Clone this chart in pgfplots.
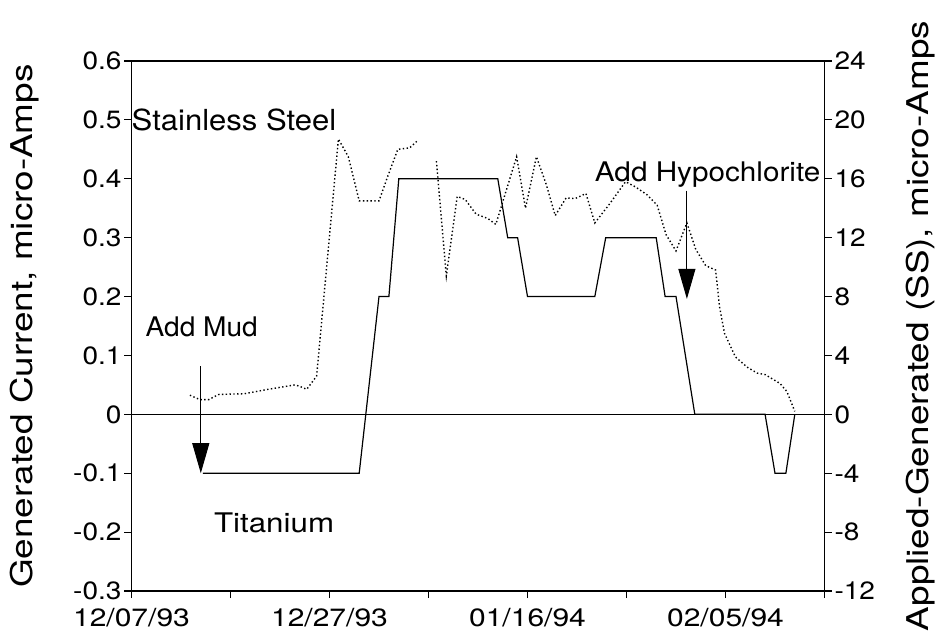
\documentclass[border=0pt]{standalone}
\usepackage{pgfplots}
\pgfplotsset{compat=1.18}
\usepackage{fontspec}
\setmainfont{TeX Gyre Heros}
\usetikzlibrary{arrows.meta}

\pgfplotstableread{
day val
7.2 -0.1
23 -0.1
25 0.2
26 0.2
27 0.4
37 0.4
38 0.3
39 0.3
40 0.2
46.8 0.2
47.9 0.3
53 0.3
53.9 0.2
55 0.2
56.9 0
64 0
65 -0.1
66.1 -0.1
67 0
}\titanium

\pgfplotstableread{
day val
5.9 1.3
6.9 1.0
7.8 1.0
8.8 1.35
11.4 1.4
13.8 1.7
16.5 2.0
17.0 1.9
17.7 1.7
18.7 2.6
20.9 18.7
21.9 17.5
23.0 14.5
25.0 14.5
25.9 16.2
26.9 18.0
28.1 18.1
28.9 18.6
}\ssA

\pgfplotstableread{
day val
30.8 17.2
31.8 9.4
32.9 14.8
33.7 14.6
34.8 13.6
36.0 13.3
36.8 12.9
38.9 17.5
39.8 14.0
40.9 17.5
41.9 15.6
42.8 13.5
43.9 14.7
44.8 14.65
45.9 15.0
46.8 13.0
48.3 14.3
49.9 15.8
50.9 15.45
52.1 14.9
53.1 14.2
54.0 12.2
55.0 11.1
56.1 13.0
57.0 11.2
58.0 10.1
59.0 9.8
59.4 7.3
59.9 5.5
61.0 3.9
62.2 3.2
63.2 2.8
64.0 2.7
65.5 2.1
66.2 1.55
67.0 0.2
}\ssB

\begin{document}
\begin{tikzpicture}
\useasboundingbox (-131.5pt,-50pt) rectangle (809.5pt,591pt);
\pgfplotsset{
  every axis/.append style={
    width=693pt, height=530pt, scale only axis,
    at={(0pt,0pt)}, anchor=south west,
    xmin=0, xmax=70,
    axis line style={line width=1.2pt},
    tick style={line width=1.1pt, black},
    tick align=outside,
    major tick length=7pt,
    minor tick num=0,
    tick label style={font=\fontsize{25}{25}\selectfont, inner sep=2.5pt},
    yticklabel style={xscale=1.12},
    xticklabel style={yshift=-8pt, xscale=1.2},
  },
}

\begin{axis}[
  ymin=-0.3, ymax=0.6,
  xtick={0,10,20,30,40,50,60,70},
  xticklabels={\mbox{12/07/93},,\mbox{12/27/93},,\mbox{01/16/94},,\mbox{02/05/94},},
  xtick pos=bottom,
  ytick={-0.3,-0.2,-0.1,0,0.1,0.2,0.3,0.4,0.5,0.6},
  yticklabels={\mbox{-0.3},\mbox{-0.2},\mbox{-0.1},\mbox{0},\mbox{0.1},\mbox{0.2},\mbox{0.3},\mbox{0.4},\mbox{0.5},\mbox{0.6}},
  ytick pos=left,
  ylabel={Generated Current, micro-Amps},
  every axis y label/.style={at={(rel axis cs:-0.155,0.5)}, anchor=center, rotate=90, xscale=1.23, font=\fontsize{30}{30}\selectfont},
]
\addplot[black, line width=1.1pt] coordinates {(0,0) (70,0)};
\addplot[black, line width=1.2pt] table[x=day, y=val] {\titanium};

\node[anchor=west, inner sep=0pt, font=\fontsize{29}{29}\selectfont, xscale=1.07] at (axis cs:0,0.5) {Stainless Steel};
\node[anchor=base, inner sep=0pt, font=\fontsize{27}{27}\selectfont, xscale=1.04] at (axis cs:7.1,0.133) {Add Mud};
\node[anchor=base, inner sep=0pt, font=\fontsize{27}{27}\selectfont, xscale=1.1] at (axis cs:58.2,0.395) {Add Hypochlorite};
\node[anchor=base, inner sep=0pt, font=\fontsize{27}{27}\selectfont, xscale=1.16] at (axis cs:14.4,-0.201) {Titanium};

\draw[line width=1pt, -{Triangle[width=17pt,length=30pt]}] (axis cs:7,0.082) -- (axis cs:7,-0.1);
\draw[line width=1pt, -{Triangle[width=17pt,length=30pt]}] (axis cs:56.1,0.38) -- (axis cs:56.1,0.196);
\end{axis}

\begin{axis}[
  ymin=-12, ymax=24,
  axis y line*=right,
  axis x line=none,
  ytick={-12,-8,-4,0,4,8,12,16,20,24},
  yticklabels={\mbox{-12},\mbox{-8},\mbox{-4},\mbox{0},\mbox{4},\mbox{8},\mbox{12},\mbox{16},\mbox{20},\mbox{24}},
  ylabel={Applied-Generated (SS), micro-Amps},
  every axis y label/.style={at={(rel axis cs:1.138,0.5)}, anchor=center, rotate=90, xscale=1.23, font=\fontsize{30}{30}\selectfont},
]
\addplot[black, line width=1.4pt, dash pattern=on 1.4pt off 2.4pt] table[x=day, y=val] {\ssA};
\addplot[black, line width=1.4pt, dash pattern=on 1.4pt off 2.4pt] table[x=day, y=val] {\ssB};
\end{axis}
\end{tikzpicture}
\end{document}
